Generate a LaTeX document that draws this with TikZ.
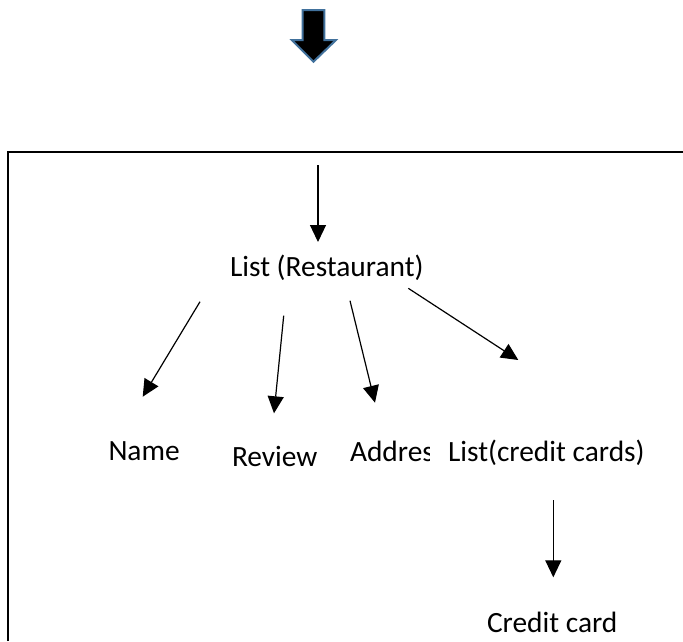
\documentclass[tikz,border=0pt]{standalone}
\usepackage{fontspec}
\setmainfont{Carlito}
\usetikzlibrary{arrows.meta}
\definecolor{arrowedge}{RGB}{65,113,156}
\tikzset{
  lbl/.style={anchor=base west, inner sep=0pt, outer sep=0pt, font=\fontsize{29.4}{35}\selectfont},
  conn/.style={line width=1.2pt, -{Triangle[length=17pt,width=16pt]}},
  frame/.style={line width=2pt},
  bigarrow/.style={fill=black, draw=arrowedge, line width=2pt, line join=miter}
}
\begin{document}
\begin{tikzpicture}[x=1pt,y=-1pt]
\useasboundingbox (0,0) rectangle (683,641);
% block arrow at top
\draw[bigarrow] (302.7,10) -- (324.3,10) -- (324.3,40) -- (336,40) -- (313.5,61.7) -- (291.7,40) -- (302.7,40) -- cycle;
% frame (open to the right and bottom)
\draw[frame] (8,641) -- (8,152) -- (683,152);
% texts
\node[lbl] (list) at (230,276.7) {List (Restaurant)};
\node[lbl] (name) at (108.5,460.7) {Name};
\node[lbl] (review) at (232,466.7) {Review};
\begin{scope}
  \clip (340,400) rectangle (429.5,480);
  \node[lbl] (addr) at (350,461.5) {Address};
\end{scope}
\node[lbl] (clist) at (448,461.5) {List(credit cards)};
\node[lbl] (card) at (487,632) {Credit card};
% connector end points
\coordinate (inS) at (318,165);
\coordinate (inE) at (318,242);
\coordinate (nS) at (200,301.7);
\coordinate (nE) at (142.7,396.7);
\coordinate (rS) at (283.7,315.7);
\coordinate (rE) at (274,413.3);
\coordinate (aS) at (350,300.7);
\coordinate (aE) at (375,402.7);
\coordinate (cS) at (408.3,288.3);
\coordinate (cE) at (518.3,360);
\coordinate (kS) at (553.3,500);
\coordinate (kE) at (553.3,577.3);
% connectors
\draw[conn] (inS) -- (inE);
\draw[conn] (nS) -- (nE);
\draw[conn] (rS) -- (rE);
\draw[conn] (aS) -- (aE);
\draw[conn] (cS) -- (cE);
\draw[conn] (kS) -- (kE);
\end{tikzpicture}
\end{document}
